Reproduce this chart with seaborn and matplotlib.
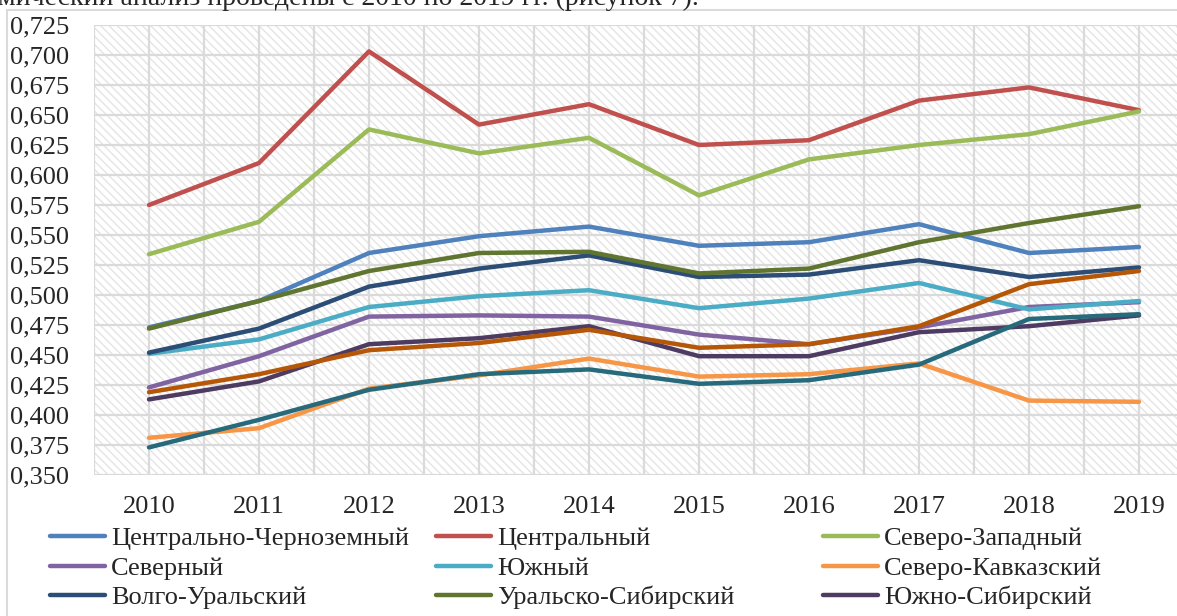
import matplotlib
matplotlib.use("Agg")
import matplotlib.pyplot as plt
import numpy as np
import pandas as pd
import seaborn as sns
from matplotlib.lines import Line2D
from matplotlib.patches import Rectangle
from matplotlib.ticker import FuncFormatter, MultipleLocator

# ---- data -------------------------------------------------------------
years = list(range(2010, 2020))

regions = [
    "Центрально-Черноземный", "Центральный", "Северо-Западный",
    "Северный", "Южный", "Северо-Кавказский",
    "Волго-Уральский", "Уральско-Сибирский", "Южно-Сибирский",
    "Ряд 10", "Ряд 11",
]

central_chernozem = [0.473, 0.495, 0.535, 0.549, 0.557, 0.541, 0.544, 0.559, 0.535, 0.540]
central = [0.575, 0.610, 0.703, 0.642, 0.659, 0.625, 0.629, 0.662, 0.673, 0.654]
north_west = [0.534, 0.561, 0.638, 0.618, 0.631, 0.583, 0.613, 0.625, 0.634, 0.653]
north = [0.423, 0.449, 0.482, 0.483, 0.482, 0.467, 0.459, 0.473, 0.490, 0.494]
south = [0.451, 0.463, 0.490, 0.499, 0.504, 0.489, 0.497, 0.510, 0.488, 0.495]
north_caucasus = [0.381, 0.389, 0.422, 0.433, 0.447, 0.432, 0.434, 0.443, 0.412, 0.411]
volga_ural = [0.452, 0.472, 0.507, 0.522, 0.533, 0.515, 0.517, 0.529, 0.515, 0.523]
ural_siberia = [0.472, 0.495, 0.520, 0.535, 0.536, 0.518, 0.522, 0.544, 0.560, 0.574]
south_siberia = [0.413, 0.428, 0.459, 0.464, 0.474, 0.449, 0.449, 0.469, 0.474, 0.483]
series_10 = [0.419, 0.434, 0.454, 0.460, 0.471, 0.456, 0.459, 0.474, 0.509, 0.520]
series_11 = [0.373, 0.396, 0.421, 0.434, 0.438, 0.426, 0.429, 0.442, 0.480, 0.484]

values = [
    central_chernozem, central, north_west, north, south, north_caucasus,
    volga_ural, ural_siberia, south_siberia, series_10, series_11,
]

colors = [
    "#4F81BD", "#C0504D", "#9BBB59", "#8064A2", "#4BACC6", "#F79646",
    "#2C4D75", "#5F7530", "#4D3B62", "#B65708", "#276A7C",
]

df = pd.DataFrame(
    [(r, y, v) for r, vals in zip(regions, values) for y, v in zip(years, vals)],
    columns=["region", "year", "value"],
)
palette = dict(zip(regions, colors))

# ---- style ------------------------------------------------------------
sns.set_style("white")
plt.rcParams["font.family"] = ["Liberation Serif", "DejaVu Serif"]
plt.rcParams["hatch.linewidth"] = 1.0
FS = 19
GRID = "#dadada"

W, H = 1177, 616
fig = plt.figure(figsize=(W / 100, H / 100), dpi=100)
ax = fig.add_axes([94 / W, 1 - 475 / H, 1100 / W, 450 / H])

# hatched plot area
ax.add_patch(Rectangle((0, 0), 1, 1, transform=ax.transAxes, facecolor="white",
                       edgecolor="#e4e4e4", hatch="\\\\\\\\", lw=0, zorder=0))

sns.lineplot(data=df, x="year", y="value", hue="region", hue_order=regions,
             palette=palette, ax=ax, legend=False, linewidth=3.2,
             solid_capstyle="round", solid_joinstyle="round")

ax.set_xlim(2009.5, 2019.5)
ax.set_ylim(0.350, 0.725)
ax.set_xticks(years)
ax.xaxis.set_minor_locator(MultipleLocator(0.5))
ax.yaxis.set_major_locator(MultipleLocator(0.025))
ax.yaxis.set_major_formatter(FuncFormatter(lambda v, _: f"{v:.3f}".replace(".", ",")))
ax.set_axisbelow(True)
ax.grid(True, which="major", color=GRID, lw=1.6)
ax.grid(True, which="minor", axis="x", color=GRID, lw=1.6)
ax.tick_params(axis="y", which="both", length=0, pad=18, labelsize=FS)
ax.tick_params(axis="x", which="both", length=0, pad=15, labelsize=FS)
ax.set(xlabel="", ylabel="")
for sp in ax.spines.values():
    sp.set_visible(False)

# outer chart border (top and left visible)
fig.patches.append(Rectangle((7 / W, -0.2), 1.5, 1.2 - 10 / H, transform=fig.transFigure,
                             fill=False, edgecolor=GRID, lw=1.5))

# caption above the chart, cut by the top edge as in the source page
fig.text(-2 / W, 1 - 5 / H, "мический анализ проведены с 2010 по 2019 гг. (рисунок 7).",
         fontsize=FS + 1, ha="left", va="baseline")

# legend: three columns of equal width, row-wise order
col_x = [50, 436, 823]
for c, x0 in enumerate(col_x):
    idx = [c, c + 3, c + 6]
    handles = [Line2D([], [], color=colors[i], lw=3.2, solid_capstyle="round") for i in idx]
    fig.legend(handles, [regions[i] for i in idx], loc="upper left",
               bbox_to_anchor=(x0 / W, 1 - 527 / H), frameon=False, fontsize=FS,
               handlelength=2.1, handletextpad=0.22, labelspacing=0.22, borderpad=0,
               borderaxespad=0)

fig.savefig("out.png", dpi=100)
